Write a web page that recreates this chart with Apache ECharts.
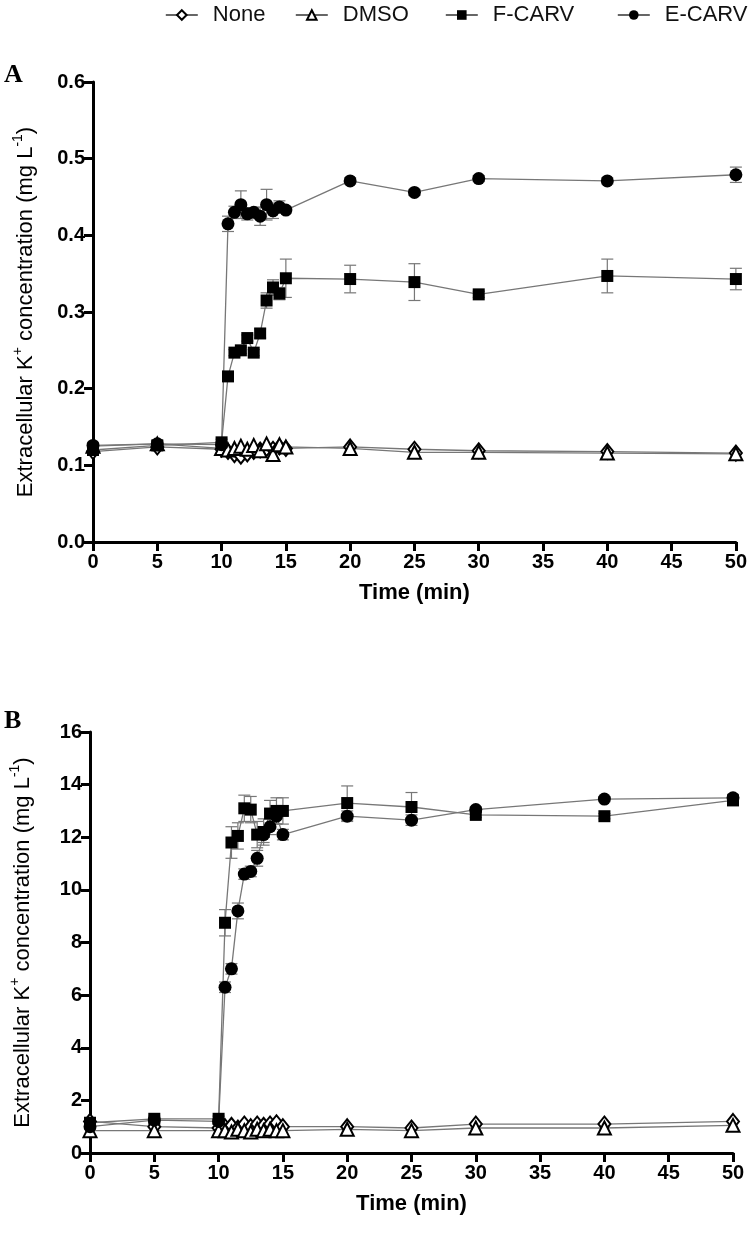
<!DOCTYPE html>
<html><head><meta charset="utf-8">
<script src="https://cdn.jsdelivr.net/npm/echarts@6/dist/echarts.min.js"></script>
<style>html,body{margin:0;padding:0;background:#fff}#c{width:750px;height:1234px}</style>
</head><body><div id="c"></div>
<script>
// ---- data ----
const times = [0,5,10,10.5,11,11.5,12,12.5,13,13.5,14,14.5,15,20,25,30,40,50];
const seriesNames = ['None','DMSO','F-CARV','E-CARV'];
const xTicks = [0,5,10,15,20,25,30,35,40,45,50];
const yTicksA = [0,0.1,0.2,0.3,0.4,0.5,0.6];
const yTicksB = [0,2,4,6,8,10,12,14,16];

const aNone = [0.118,0.124,0.121,0.118,0.114,0.112,0.115,0.118,0.120,0.122,0.121,0.124,0.122,0.124,0.121,0.119,0.118,0.116];
const aDMSO = [0.125,0.128,0.122,0.120,0.122,0.125,0.121,0.126,0.119,0.128,0.114,0.127,0.124,0.122,0.117,0.117,0.116,0.115];
const aF    = [0.120,0.126,0.130,0.216,0.247,0.250,0.266,0.247,0.272,0.315,0.332,0.324,0.344,0.343,0.339,0.323,0.347,0.343];
const aE    = [0.126,0.128,0.127,0.415,0.430,0.440,0.428,0.430,0.425,0.440,0.432,0.437,0.433,0.471,0.456,0.474,0.471,0.479];
const aFerr = [0.004,0.004,0.004,0.006,0.004,0.004,0.004,0.004,0.006,0.010,0.010,0.008,0.025,0.018,0.024,0.004,0.022,0.014];
const aEerr = [0.004,0.004,0.004,0.010,0.008,0.018,0.008,0.006,0.012,0.020,0.010,0.008,0.004,0.004,0.004,0.004,0.004,0.010];

const bNone = [1.20,1.00,0.95,1.00,1.05,0.95,1.10,1.00,1.10,1.05,1.10,1.15,1.00,1.00,0.95,1.10,1.10,1.20];
const bDMSO = [0.85,0.85,0.85,0.85,0.80,0.90,0.85,0.80,0.90,0.85,0.90,0.85,0.85,0.90,0.85,0.95,0.95,1.05];
const bF    = [1.15,1.30,1.30,8.75,11.80,12.05,13.10,13.05,12.10,12.20,12.90,13.00,13.00,13.30,13.15,12.85,12.80,13.40];
const bE    = [1.00,1.25,1.20,6.30,7.00,9.20,10.60,10.70,11.20,12.10,12.40,12.80,12.10,12.80,12.65,13.05,13.45,13.50];
const bFerr = [0.10,0.10,0.10,0.50,0.60,0.50,0.50,0.50,0.50,0.50,0.50,0.50,0.50,0.65,0.55,0.10,0.10,0.15];
const bEerr = [0.10,0.10,0.10,0.20,0.20,0.30,0.20,0.20,0.30,0.30,0.30,0.30,0.20,0.20,0.20,0.10,0.10,0.10];

// ---- styling / layout ----
const FONT = '"Liberation Sans", Arial, sans-serif';
const legendLeft = [160, 290, 440, 612];
const symbols = [
  {symbol:'diamond', size:[12,15], fill:'#fff'},
  {symbol:'triangle', size:13, fill:'#fff'},
  {symbol:'rect', size:12, fill:'#000'},
  {symbol:'circle', size:13, fill:'#000'}
];

function lineSeries(name, idx, vals, axisIdx) {
  const s = symbols[idx];
  return {
    name: name, type: 'line', xAxisIndex: axisIdx, yAxisIndex: axisIdx,
    data: times.map((t,i) => [t, vals[i]]),
    symbol: s.symbol, symbolSize: s.size, showAllSymbol: true,
    lineStyle: {color:'#777', width:1.3},
    itemStyle: {color: s.fill, borderColor:'#000', borderWidth: s.fill === '#fff' ? 2 : 0},
    z: 3, animation: false
  };
}
function errSeries(vals, errs, axisIdx) {
  return {
    type: 'custom', xAxisIndex: axisIdx, yAxisIndex: axisIdx, silent: true, z: 1, animation:false,
    data: times.map((t,i) => [t, vals[i]-errs[i], vals[i]+errs[i]]),
    encode: {x: 0, y: [1,2]},
    renderItem: function(params, api) {
      const x = api.value(0);
      const p1 = api.coord([x, api.value(2)]);
      const p2 = api.coord([x, api.value(1)]);
      const w = 6, st = {stroke:'#777', lineWidth:1.2};
      return {type:'group', children:[
        {type:'line', shape:{x1:p1[0],y1:p1[1],x2:p2[0],y2:p2[1]}, style:st},
        {type:'line', shape:{x1:p1[0]-w,y1:p1[1],x2:p1[0]+w,y2:p1[1]}, style:st},
        {type:'line', shape:{x1:p2[0]-w,y1:p2[1],x2:p2[0]+w,y2:p2[1]}, style:st}
      ]};
    }
  };
}
const axisLineStyle = {show:true, lineStyle:{color:'#000', width:3}};
const tickStyle = {show:true, length:9, inside:false, lineStyle:{color:'#000', width:3}};
const labelStyle = {color:'#000', fontSize:20, fontWeight:'bold', fontFamily:FONT};

function xAxis(gi) {
  return {
    type:'value', gridIndex:gi, min:0, max:50, interval:5,
    name:'Time (min)', nameLocation:'middle', nameGap:40,
    nameTextStyle:{color:'#000', fontSize:22, fontWeight:'bold', fontFamily:FONT},
    axisLine: axisLineStyle, axisTick: tickStyle,
    axisLabel: Object.assign({margin:10, formatter: v => xTicks.includes(v) ? String(v) : ''}, labelStyle),
    splitLine:{show:false}
  };
}
function yAxis(gi, max, interval, fmt) {
  return {
    type:'value', gridIndex:gi, min:0, max:max, interval:interval,
    name:'{a|Extracellular K}{s|+}{a| concentration (mg L}{s|-1}{a|)}',
    nameLocation:'middle', nameGap:56, nameRotate:90,
    nameTextStyle:{color:'#000', fontFamily:FONT, rich:{
      a:{fontSize:22, fontFamily:FONT, color:'#000', lineHeight:26, verticalAlign:'bottom'},
      s:{fontSize:14, fontFamily:FONT, color:'#000', lineHeight:26, verticalAlign:'top'}
    }},
    axisLine: axisLineStyle, axisTick: tickStyle,
    axisLabel: Object.assign({margin:8, formatter: fmt}, labelStyle),
    splitLine:{show:false}
  };
}

const chart = echarts.init(document.getElementById('c'), null, {renderer:'canvas'});
const series = [];
[aNone, aDMSO, aF, aE].forEach((v,i) => series.push(lineSeries(seriesNames[i], i, v, 0)));
[bNone, bDMSO, bF, bE].forEach((v,i) => series.push(lineSeries(seriesNames[i], i, v, 1)));
series.push(errSeries(aF, aFerr, 0), errSeries(aE, aEerr, 0), errSeries(bF, bFerr, 1), errSeries(bE, bEerr, 1));

chart.setOption({
  backgroundColor:'#fff',
  animation:false,
  legend: seriesNames.map((n,i) => ({
    data:[n], left: legendLeft[i], top: -1, itemWidth:32, itemHeight:12, selectedMode:false,
    lineStyle:{color:'#333', width:1.6},
    textStyle:{fontSize:22, fontFamily:FONT, color:'#111', padding:[0,0,0,10]}
  })),
  graphic: [
    {type:'text', left:4, top:62, style:{text:'A', font:'bold 26px "Liberation Serif", serif', fill:'#000'}},
    {type:'text', left:4, top:708, style:{text:'B', font:'bold 26px "Liberation Serif", serif', fill:'#000'}}
  ],
  grid: [
    {left:93, right:12, top:82, height:460},
    {left:88, right:17, top:732, height:421}
  ],
  xAxis: [xAxis(0), xAxis(1)],
  yAxis: [
    yAxis(0, 0.6, 0.1, v => v.toFixed(1)),
    yAxis(1, 16, 2, v => String(v))
  ],
  series: series
});
</script></body></html>
